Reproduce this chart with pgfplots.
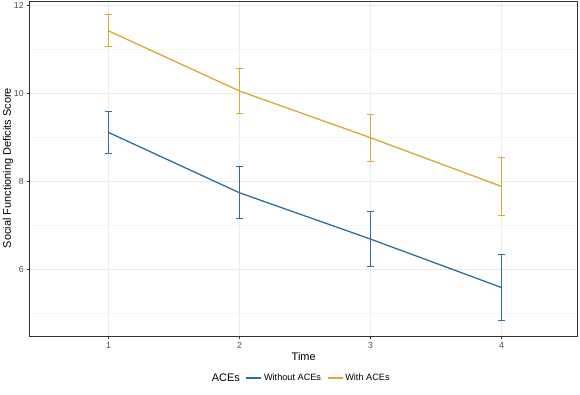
\documentclass[border=0pt]{standalone}
\usepackage{pgfplots}
\pgfplotsset{compat=1.18}
\usepackage{fontspec}
\setmainfont{Liberation Sans}
\definecolor{cblue}{RGB}{46,110,158}
\definecolor{cgold}{RGB}{218,168,48}
\definecolor{gridmaj}{RGB}{235,235,235}
\definecolor{gridmin}{RGB}{246,246,246}
\definecolor{ticklab}{RGB}{77,77,77}
\begin{document}
\begin{tikzpicture}
\path[use as bounding box] (0,0) rectangle (580bp,-395bp);
\begin{axis}[
  at={(29.9bp,-336bp)}, anchor=south west,
  scale only axis, width=547.58bp, height=334bp,
  xmin=0.4, xmax=4.58, ymin=4.49, ymax=12.07,
  xtick={1,2,3,4}, ytick={6,8,10,12}, minor ytick={5,7,9,11},
  grid=both,
  major grid style={gridmaj, line width=1bp},
  minor grid style={gridmin, line width=0.6bp},
  axis line style={draw=black!80, line width=1bp},
  tick align=outside, tick pos=left,
  major tick length=2.75bp, minor tick length=0pt,
  tick style={black!80, line width=0.6bp},
  ticklabel style={font=\fontsize{8.8}{10}\selectfont, text=ticklab},
  /pgf/number format/assume math mode=true,
  xlabel={Time}, ylabel={Social Functioning Deficits Score},
  label style={font=\fontsize{11}{13}\selectfont},
  x label style={at={(axis description cs:0.5,-0.063)}, anchor=center},
  y label style={at={(axis description cs:-0.040,0.503)}, anchor=center},
  legend columns=-1,
  legend style={at={(axis description cs:0.5,-0.126)}, anchor=center, draw=none, fill=none,
    font=\fontsize{9.2}{10}\selectfont,
    /tikz/every even column/.append style={column sep=4pt}},
  legend image code/.code={\draw[#1, line width=1.3pt] (0pt,0pt) -- (15pt,0pt);},
]
\addlegendimage{empty legend}
\addlegendentry{\hspace{-6pt}\fontsize{11}{13}\selectfont ACEs}
\addplot[cblue, line width=1.3pt,
  error bars/.cd, y dir=both, y explicit,
  error bar style={line width=1bp, cblue},
  error mark options={rotate=90, mark size=3.5bp, line width=1bp, cblue}]
  coordinates {(1,9.11) +- (0,0.475) (2,7.74) +- (0,0.59) (3,6.69) +- (0,0.63) (4,5.59) +- (0,0.74)};
\addlegendentry{Without ACEs}
\addplot[cgold, line width=1.3pt,
  error bars/.cd, y dir=both, y explicit,
  error bar style={line width=1bp, cgold},
  error mark options={rotate=90, mark size=3.5bp, line width=1bp, cgold}]
  coordinates {(1,11.415) +- (0,0.365) (2,10.05) +- (0,0.50) (3,8.99) +- (0,0.535) (4,7.885) +- (0,0.655)};
\addlegendentry{With ACEs}
\end{axis}
\end{tikzpicture}
\end{document}
